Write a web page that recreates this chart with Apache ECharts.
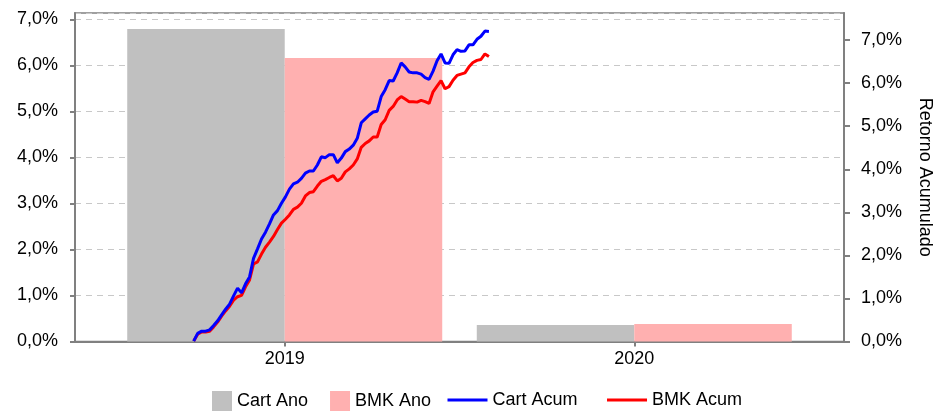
<!DOCTYPE html>
<html>
<head>
<meta charset="utf-8">
<script src="https://cdn.jsdelivr.net/npm/echarts@6/dist/echarts.min.js"></script>
<style>html,body{margin:0;padding:0;background:#fff;}#c{width:942px;height:412px;}</style>
</head>
<body>
<div id="c"></div>
<script>
const categories = ['2019', '2020'];
const cartAno = [6.79, 0.36];
const bmkAno = [6.16, 0.38];
const cartAcum = [0.01,0.19,0.24,0.24,0.27,0.37,0.48,0.62,0.75,0.87,1.06,1.24,1.13,1.34,1.50,1.93,2.15,2.38,2.54,2.73,2.94,3.04,3.21,3.36,3.54,3.66,3.70,3.79,3.91,3.96,3.96,4.10,4.29,4.27,4.34,4.34,4.15,4.26,4.41,4.47,4.56,4.72,5.08,5.17,5.26,5.33,5.35,5.69,5.85,6.06,6.05,6.24,6.47,6.38,6.26,6.24,6.24,6.21,6.13,6.09,6.28,6.52,6.68,6.47,6.46,6.66,6.78,6.74,6.75,6.89,6.89,7.02,7.09,7.21,7.20];
const bmkAcum = [0.01,0.17,0.22,0.22,0.24,0.34,0.45,0.59,0.71,0.82,0.96,1.04,1.07,1.27,1.43,1.80,1.85,2.03,2.19,2.31,2.44,2.60,2.75,2.84,2.94,3.07,3.12,3.21,3.38,3.46,3.48,3.61,3.72,3.76,3.81,3.85,3.73,3.79,3.94,4.01,4.10,4.24,4.51,4.60,4.66,4.75,4.75,5.04,5.15,5.37,5.46,5.61,5.69,5.63,5.57,5.57,5.56,5.60,5.57,5.53,5.80,5.93,6.06,5.87,5.92,6.07,6.18,6.21,6.24,6.38,6.48,6.53,6.55,6.68,6.62];
const seriesNames = ['Cart Ano', 'BMK Ano', 'Cart Acum', 'BMK Acum'];
const rightAxisName = 'Retorno Acumulado';

const FONT = 'Liberation Sans, Arial, sans-serif';
const FS = 18;
const pct = v => v.toFixed(1).replace('.', ',') + '%';
const axisGray = '#808080';

const chart = echarts.init(document.getElementById('c'), null, {renderer: 'canvas'});
chart.setOption({
  animation: false,
  textStyle: {fontFamily: FONT},
  grid: {left: 75, right: 96, top: 13, bottom: 70.5, show: true, borderColor: axisGray, borderWidth: 1.5, backgroundColor: 'transparent'},
  legend: [
    {data: [seriesNames[0], seriesNames[1]], left: 207, top: 386, itemWidth: 20, itemHeight: 20, itemGap: 22,
     icon: 'rect', textStyle: {fontSize: FS, color: '#000', fontFamily: FONT}},
    {data: [seriesNames[2], seriesNames[3]], left: 441, top: 386, itemWidth: 40, itemHeight: 20, itemGap: 28,
     itemStyle: {opacity: 0}, lineStyle: {width: 3},
     textStyle: {fontSize: FS, color: '#000', fontFamily: FONT}}
  ],
  xAxis: [
    {type: 'value', min: -0.6, max: 1.6, position: 'bottom',
     axisLine: {show: true, onZero: false, lineStyle: {color: axisGray, width: 2}},
     axisTick: {show: true, length: 5, customValues: [0, 1], lineStyle: {color: axisGray, width: 2}},
     axisLabel: {customValues: [0, 1], formatter: v => categories[Math.round(v)], fontSize: FS, color: '#000', margin: 9, fontFamily: FONT},
     splitLine: {show: false}},
    {type: 'value', min: -29.75, max: 163, position: 'top',
     axisLine: {show: false, onZero: false}, axisTick: {show: false}, axisLabel: {show: false}, splitLine: {show: false}}
  ],
  yAxis: [
    {type: 'value', min: 0, max: 7.14, interval: 1, position: 'left',
     axisLine: {show: true, onZero: false, lineStyle: {color: axisGray, width: 2}},
     axisTick: {show: true, length: 5, lineStyle: {color: axisGray, width: 2}},
     axisLabel: {formatter: pct, fontSize: FS, color: '#000', margin: 17, showMaxLabel: false, fontFamily: FONT},
     splitLine: {show: true, lineStyle: {color: '#c8c8c8', type: [6, 5], width: 1}}},
    {type: 'value', min: 0, max: 7.63, interval: 1, position: 'right',
     name: rightAxisName, nameLocation: 'middle', nameRotate: -90, nameGap: 72,
     nameTextStyle: {fontSize: FS, color: '#000', fontFamily: FONT},
     axisLine: {show: true, onZero: false, lineStyle: {color: axisGray, width: 2}},
     axisTick: {show: true, length: 6, lineStyle: {color: axisGray, width: 2}},
     axisLabel: {formatter: pct, fontSize: FS, color: '#000', margin: 17, showMaxLabel: false, fontFamily: FONT},
     splitLine: {show: false}}
  ],
  series: [
    {name: seriesNames[0], type: 'bar', xAxisIndex: 0, yAxisIndex: 0, barWidth: 157.5, barGap: '0%',
     itemStyle: {color: '#c0c0c0'}, data: cartAno.map((v, i) => [i, v])},
    {name: seriesNames[1], type: 'bar', xAxisIndex: 0, yAxisIndex: 0, barWidth: 157.5, barGap: '0%',
     itemStyle: {color: '#ffb0b0'}, data: bmkAno.map((v, i) => [i, v])},
    {name: seriesNames[2], type: 'line', xAxisIndex: 1, yAxisIndex: 1, symbol: 'none', z: 3,
     lineStyle: {color: '#0000ff', width: 3}, itemStyle: {color: '#0000ff'}, data: cartAcum.map((v, i) => [i, v])},
    {name: seriesNames[3], type: 'line', xAxisIndex: 1, yAxisIndex: 1, symbol: 'none', z: 2,
     lineStyle: {color: '#ff0000', width: 3}, itemStyle: {color: '#ff0000'}, data: bmkAcum.map((v, i) => [i, v])}
  ]
});
</script>
</body>
</html>
